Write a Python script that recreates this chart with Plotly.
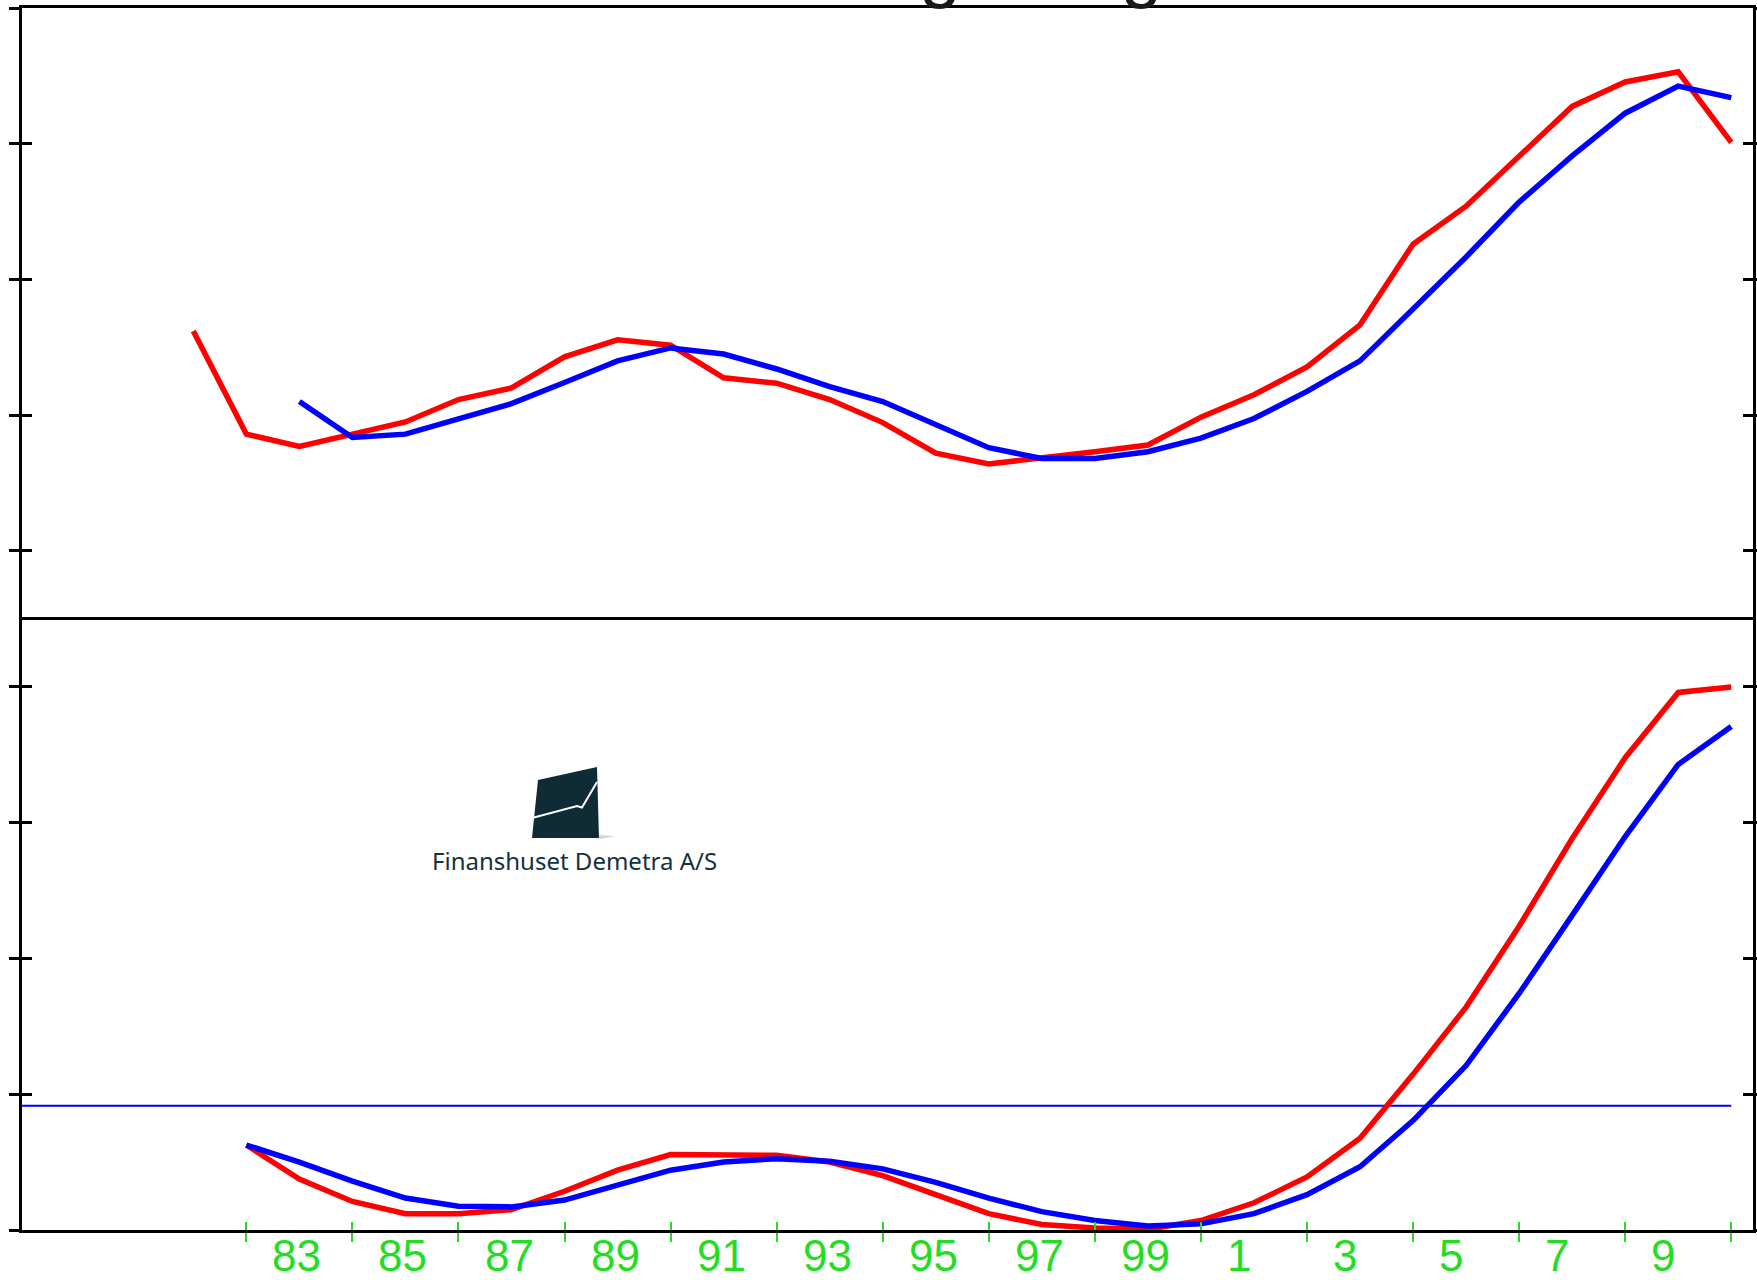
import plotly.graph_objects as go

# ---------------- data ----------------
years_top_red = list(range(1981, 2011))
top_red = [92.4, 77.2, 75.4, 77.2, 79.0, 82.3, 84.0, 88.6, 91.1, 90.3,
           85.5, 84.7, 82.3, 78.9, 74.4, 72.8, 73.6, 74.6, 75.6, 79.7,
           83.0, 87.1, 93.3, 105.2, 110.8, 118.2, 125.5, 129.1, 130.6, 120.2]
years_top_blue = list(range(1983, 2011))
top_blue = [82.0, 76.7, 77.2, 79.5, 81.7, 84.8, 88.0, 89.9, 89.0, 86.8,
            84.2, 82.0, 78.5, 75.2, 73.6, 73.6, 74.6, 76.6, 79.5, 83.5,
            88.0, 95.6, 103.3, 111.4, 118.2, 124.5, 128.5, 126.8]

years_bot = list(range(1982, 2011))
bot_red = [12.5, 7.5, 4.2, 2.4, 2.4, 3.0, 5.7, 8.8, 11.1, 11.1,
           11.0, 10.0, 8.0, 5.2, 2.4, 0.8, 0.3, 0.1, 1.4, 4.0,
           7.8, 13.5, 22.9, 32.8, 44.7, 57.6, 69.5, 79.1, 79.9]
bot_blue = [12.5, 10.0, 7.2, 4.7, 3.5, 3.4, 4.4, 6.7, 8.8, 10.0,
            10.5, 10.1, 9.0, 7.0, 4.7, 2.7, 1.4, 0.6, 0.9, 2.4,
            5.2, 9.3, 16.1, 24.2, 34.8, 46.3, 57.9, 68.5, 74.1]
hline_years = [1977, 2010]
hline_value = [18.3, 18.3]

tick_years = list(range(1982, 2011, 2))
label_years = list(range(1983, 2010, 2))
label_text = ["83", "85", "87", "89", "91", "93", "95", "97", "99", "1", "3", "5", "7", "9"]

top_ticks = [60, 80, 100, 120, 140]
bot_ticks = [0, 20, 40, 60, 80]

title_text = "Boliglån og renter"
logo_text = "Finanshuset Demetra A/S"

# ---------------- style ----------------
W, H = 1757, 1280
L, R, T, B = 22, 4, 8, 50
PW = W - L - R
PH = H - T - B
RED = "#ff0000"
BLUE = "#0000ff"
GREEN = "#22dd22"
X_RANGE = [1977.77, 2010.41]
TOP_RANGE = [50.25, 140]
BOT_RANGE = [0, 90.2]
split = 613 / PH
LW = 5.5


def paper(xp, yp):
    return (xp - L) / PW, (H - B - yp) / PH


fig = go.Figure()
fig.add_trace(go.Scatter(x=years_top_red, y=top_red, mode="lines",
                         line=dict(color=RED, width=LW), xaxis="x", yaxis="y"))
fig.add_trace(go.Scatter(x=years_top_blue, y=top_blue, mode="lines",
                         line=dict(color=BLUE, width=LW), xaxis="x", yaxis="y"))
fig.add_trace(go.Scatter(x=hline_years, y=hline_value, mode="lines",
                         line=dict(color=BLUE, width=2), xaxis="x2", yaxis="y2"))
fig.add_trace(go.Scatter(x=years_bot, y=bot_red, mode="lines",
                         line=dict(color=RED, width=LW), xaxis="x2", yaxis="y2"))
fig.add_trace(go.Scatter(x=years_bot, y=bot_blue, mode="lines",
                         line=dict(color=BLUE, width=LW), xaxis="x2", yaxis="y2"))
# empty traces so that the overlay axes (inner tick marks) are drawn
for xa, ya in (("x", "y3"), ("x3", "y2"), ("x2", "y4")):
    fig.add_trace(go.Scatter(x=[None], y=[None], mode="lines", xaxis=xa, yaxis=ya,
                             hoverinfo="skip"))

axis_common = dict(showgrid=False, zeroline=False, showticklabels=False, automargin=False)

layout = dict(
    width=W, height=H, autosize=False,
    margin=dict(l=L, r=R, t=T, b=B, pad=0, autoexpand=False),
    paper_bgcolor="white", plot_bgcolor="white",
    showlegend=False,
    xaxis=dict(domain=[0, 1], anchor="y", range=X_RANGE, showline=True,
               linecolor="black", linewidth=2.5, mirror=True, ticks="", **axis_common),
    yaxis=dict(domain=[split, 1], anchor="x", range=TOP_RANGE, showline=True,
               linecolor="black", linewidth=2.5, mirror="ticks", ticks="outside",
               tickvals=top_ticks, ticklen=10, tickwidth=2.5, tickcolor="black", **axis_common),
    yaxis3=dict(domain=[split, 1], anchor="x", overlaying="y", range=TOP_RANGE,
                showline=False, mirror="ticks", ticks="inside",
                tickvals=top_ticks, ticklen=10, tickwidth=2.5, tickcolor="black", **axis_common),
    xaxis2=dict(domain=[0, 1], anchor="y2", range=X_RANGE, showline=True,
                linecolor="black", linewidth=2.5, mirror=False, ticks="outside",
                tickvals=tick_years, ticklen=9, tickwidth=2, tickcolor=GREEN, **axis_common),
    xaxis3=dict(domain=[0, 1], anchor="y2", overlaying="x2", range=X_RANGE,
                showline=False, ticks="inside",
                tickvals=tick_years, ticklen=8, tickwidth=2, tickcolor=GREEN, **axis_common),
    yaxis2=dict(domain=[0, split], anchor="x2", range=BOT_RANGE, showline=True,
                linecolor="black", linewidth=2.5, mirror="ticks", ticks="outside",
                tickvals=bot_ticks, ticklen=10, tickwidth=2.5, tickcolor="black", **axis_common),
    yaxis4=dict(domain=[0, split], anchor="x2", overlaying="y2", range=BOT_RANGE,
                showline=False, mirror="ticks", ticks="inside",
                tickvals=bot_ticks, ticklen=10, tickwidth=2.5, tickcolor="black", **axis_common),
)
fig.update_layout(**layout)

annotations = []
for yr, txt in zip(label_years, label_text):
    annotations.append(dict(x=yr, y=0, xref="x2", yref="paper", text=txt,
                            showarrow=False, xanchor="left", yanchor="top",
                            xshift=-29, yshift=1,
                            font=dict(family="Liberation Sans, Arial, sans-serif",
                                      size=44, color=GREEN)))

# partially visible title (cut off at the top of the picture, as in the original)
annotations.append(dict(x=paper(794, 0)[0], y=1, xref="paper", yref="paper",
                        text=title_text, showarrow=False, xanchor="left", yanchor="bottom",
                        yshift=-4,
                        font=dict(family="Liberation Sans, Arial, sans-serif", size=74,
                                  color="#1a1a1a")))

# logo text
lx, ly = paper(574, 860)
annotations.append(dict(x=lx, y=ly, xref="paper", yref="paper", text=logo_text,
                        showarrow=False, xanchor="center", yanchor="middle",
                        font=dict(family="Noto Sans, sans-serif", size=24, color="#15313d")))
fig.update_layout(annotations=annotations)


def path_of(points, close=True):
    pts = [paper(x, y) for x, y in points]
    s = "M " + " L ".join(f"{px:.5f},{py:.5f}" for px, py in pts)
    return s + (" Z" if close else "")


shapes = [
    dict(type="path", xref="paper", yref="paper",
         path=path_of([(598, 835), (616, 836), (600, 839)]),
         fillcolor="#d6d6d6", line=dict(width=0)),
    dict(type="path", xref="paper", yref="paper",
         path=path_of([(538, 780), (597, 767), (599, 838), (532, 838)]),
         fillcolor="#0e2b36", line=dict(width=0)),
    dict(type="path", xref="paper", yref="paper",
         path=path_of([(532, 818), (577, 806), (582, 807.5), (597, 782)], close=False),
         line=dict(color="white", width=2)),
]
fig.update_layout(shapes=shapes)

fig.write_html(
    "out.html",
    config={"displayModeBar": False, "responsive": False},
    post_script="document.documentElement.style.overflow='hidden';"
                "document.body.style.margin='0px';document.body.style.overflow='hidden';",
)
